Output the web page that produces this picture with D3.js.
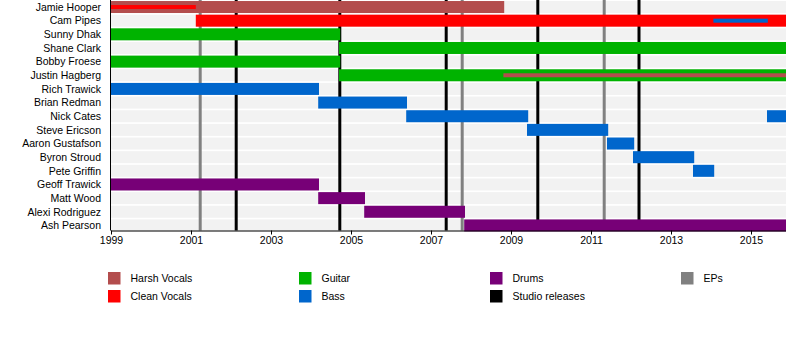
<!DOCTYPE html>
<html>
<head>
<meta charset="utf-8">
<script src="https://cdn.jsdelivr.net/npm/d3@7"></script>
<style>
  html, body { margin: 0; padding: 0; background: #fff; }
  svg { display: block; }
  text { font-family: "Liberation Sans", Arial, sans-serif; fill: #000; }
</style>
</head>
<body>
<svg id="chart" width="800" height="350"></svg>
<script>
// ---- data ----
const members = ["Jamie Hooper", "Cam Pipes", "Sunny Dhak", "Shane Clark", "Bobby Froese",
  "Justin Hagberg", "Rich Trawick", "Brian Redman", "Nick Cates", "Steve Ericson",
  "Aaron Gustafson", "Byron Stroud", "Pete Griffin", "Geoff Trawick", "Matt Wood",
  "Alexi Rodriguez", "Ash Pearson"];

const startYear = 1999;
const endYear = 2015.875;

const roles = ["Harsh Vocals", "Clean Vocals", "Guitar", "Bass", "Drums"];
const roleColors = ["#b34d4d", "#ff0000", "#00b300", "#0066cc", "#770077"];

// main bars: [member, role, from, till]
const mainSpans = [
  ["Jamie Hooper", "Harsh Vocals", 1999, 2008.83],
  ["Cam Pipes", "Clean Vocals", 2001.12, endYear],
  ["Sunny Dhak", "Guitar", 1999, 2004.73],
  ["Shane Clark", "Guitar", 2004.7, endYear],
  ["Bobby Froese", "Guitar", 1999, 2004.73],
  ["Justin Hagberg", "Guitar", 2004.7, endYear],
  ["Rich Trawick", "Bass", 1999, 2004.2],
  ["Brian Redman", "Bass", 2004.18, 2006.4],
  ["Nick Cates", "Bass", 2006.38, 2009.43],
  ["Nick Cates", "Bass", 2015.4, endYear],
  ["Steve Ericson", "Bass", 2009.4, 2011.43],
  ["Aaron Gustafson", "Bass", 2011.4, 2012.08],
  ["Byron Stroud", "Bass", 2012.05, 2013.58],
  ["Pete Griffin", "Bass", 2013.55, 2014.08],
  ["Geoff Trawick", "Drums", 1999, 2004.2],
  ["Matt Wood", "Drums", 2004.18, 2005.35],
  ["Alexi Rodriguez", "Drums", 2005.33, 2007.85],
  ["Ash Pearson", "Drums", 2007.83, endYear]
];

// secondary (thin) bars: [member, role, from, till]
const thinSpans = [
  ["Jamie Hooper", "Clean Vocals", 1999, 2001.12],
  ["Cam Pipes", "Bass", 2014.06, 2015.42],
  ["Justin Hagberg", "Harsh Vocals", 2008.81, endYear]
];

const studioReleases = [2002.13, 2004.72, 2007.38, 2009.67, 2012.2];
const epReleases = [2001.23, 2007.78, 2011.33];

const legendLabels = ["Harsh Vocals", "Clean Vocals", "Guitar", "Bass", "Drums", "Studio releases", "EPs"];
const legendColors = ["#b34d4d", "#ff0000", "#00b300", "#0066cc", "#770077", "#000000", "#808080"];

// ---- drawing ----
const svg = d3.select("#chart");
const x = d3.scaleLinear().domain([startYear, endYear]).range([111, 786]);
const step = 13.65, pad = 1.65 / 13.65;
const y = d3.scaleBand().domain(members)
  .range([0.2, 0.2 + members.length * step])
  .paddingInner(pad).paddingOuter(pad / 2);
const color = d3.scaleOrdinal().domain(roles).range(roleColors);
const axisY = 230.5;

// row backgrounds
svg.append("g").selectAll("rect").data(members).join("rect")
  .attr("x", x(startYear)).attr("width", x(endYear) - x(startYear))
  .attr("y", d => y(d)).attr("height", y.bandwidth())
  .attr("fill", "#f2f2f2");

// release lines
const lines = svg.append("g");
lines.selectAll(".ep").data(epReleases).join("line")
  .attr("x1", d => x(d)).attr("x2", d => x(d))
  .attr("y1", 0).attr("y2", axisY)
  .attr("stroke", "#808080").attr("stroke-width", 3);
lines.selectAll(".studio").data(studioReleases).join("line")
  .attr("x1", d => x(d)).attr("x2", d => x(d))
  .attr("y1", 0).attr("y2", axisY)
  .attr("stroke", "#000").attr("stroke-width", 3);

// main bars
svg.append("g").selectAll("rect").data(mainSpans).join("rect")
  .attr("x", d => x(d[2])).attr("width", d => x(d[3]) - x(d[2]))
  .attr("y", d => y(d[0])).attr("height", y.bandwidth())
  .attr("fill", d => color(d[1]));

// thin bars
const thinH = 4;
svg.append("g").selectAll("rect").data(thinSpans).join("rect")
  .attr("x", d => x(d[2])).attr("width", d => x(d[3]) - x(d[2]))
  .attr("y", d => y(d[0]) + y.bandwidth() / 2 - thinH / 2).attr("height", thinH)
  .attr("fill", d => color(d[1]));

// member labels
svg.append("g").selectAll("text").data(members).join("text")
  .attr("x", 101).attr("y", d => y(d) + y.bandwidth() / 2)
  .attr("dy", "0.36em").attr("text-anchor", "end")
  .attr("font-size", "10.5px").text(d => d);

// left axis line
svg.append("line").attr("x1", 110.5).attr("x2", 110.5).attr("y1", 0).attr("y2", axisY)
  .attr("stroke", "#000").attr("stroke-width", 1);

// x axis (major + minor ticks)
const majorYears = d3.range(1999, 2016, 2);
const minorYears = d3.range(2000, 2016, 2);
const axisG = svg.append("g").attr("transform", `translate(0,${axisY})`);
axisG.call(d3.axisBottom(x).tickValues(minorYears).tickSize(2).tickFormat(""));
axisG.call(d3.axisBottom(x).tickValues(majorYears).tickSize(4).tickSizeOuter(0)
  .tickFormat(d3.format("d")).tickPadding(2));
axisG.selectAll(".domain").attr("d", `M${x(startYear)},0.5H${x(endYear)}`).attr("stroke", "#000");
axisG.selectAll("text").attr("font-size", "10.5px")
  .attr("font-family", "'Liberation Sans', Arial, sans-serif").attr("fill", "#000");

// legend
const legend = svg.append("g");
const colX = [108, 299, 490, 681];
const rowY = [272, 290];
legendLabels.forEach((lab, i) => {
  const c = Math.floor(i / 2), r = i % 2;
  const g = legend.append("g").attr("transform", `translate(${colX[c]},${rowY[r]})`);
  g.append("rect").attr("width", 12.5).attr("height", 12.5).attr("fill", legendColors[i]);
  g.append("text").attr("x", 22.5).attr("y", 6.5).attr("dy", "0.36em")
    .attr("font-size", "10.5px").text(lab);
});
</script>
</body>
</html>
